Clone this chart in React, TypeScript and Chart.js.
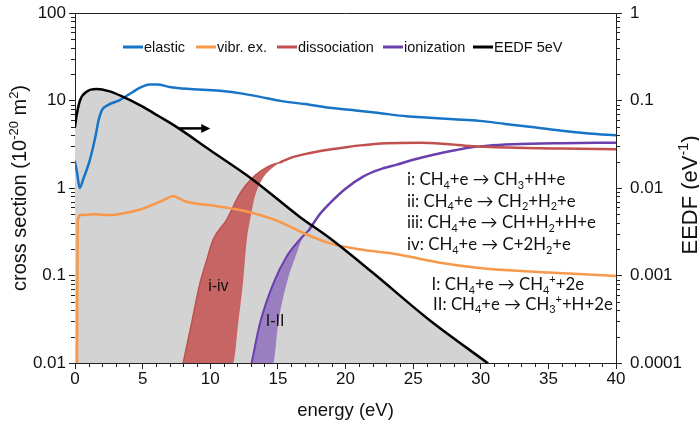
import React, { useEffect, useRef } from 'react';
import { Chart, registerables } from 'chart.js';

Chart.register(...registerables);

// ---------- data ----------
const energyTicks = [0, 5, 10, 15, 20, 25, 30, 35, 40];
const crossTicks = [0.01, 0.1, 1, 10, 100];
const eedfTicks = [0.0001, 0.001, 0.01, 0.1, 1];

const legendLabels = ['elastic', 'vibr. ex.', 'dissociation', 'ionization', 'EEDF 5eV'];

const elastic: [number, number][] = [
  [0, 2.0], [0.15, 1.5], [0.35, 1.0], [0.6, 1.25], [1.1, 2.1], [1.5, 3.8], [1.75, 6.0],
  [2.0, 7.8], [2.4, 8.8], [3.3, 10.1], [4.3, 12.6], [4.9, 14.2], [5.5, 15.2], [6.1, 15.2],
  [7.0, 14.3], [8.3, 13.6], [10.7, 12.9], [12.5, 11.9], [13.7, 11.0], [15.2, 9.9], [17, 9.1],
  [19, 8.2], [21.1, 7.6], [22.6, 7.15], [24.5, 6.6], [26.2, 6.35], [28, 6.1], [29.9, 5.85],
  [31.8, 5.4], [33.6, 5.0], [36, 4.5], [38, 4.2], [40, 4.0],
];

const vibrational: [number, number][] = [
  [0.15, 0.01], [0.2, 0.42], [0.4, 0.49], [1.5, 0.5], [2.5, 0.49], [3.5, 0.51], [5, 0.58],
  [6.5, 0.72], [7.3, 0.81], [7.7, 0.76], [8.2, 0.7], [10.5, 0.62], [12.7, 0.54], [15, 0.42],
  [17, 0.3], [18.85, 0.233], [21, 0.2], [23.8, 0.175], [27, 0.14], [29.9, 0.122], [35, 0.108],
  [40, 0.099],
];

const dissocLeftEdge: [number, number][] = [
  [8.0, 0.01], [8.62, 0.0286], [9.24, 0.0815], [9.74, 0.15], [10.2, 0.255], [11.2, 0.43],
  [12.2, 0.87], [13.0, 1.25], [13.7, 1.55], [14.5, 1.82], [15.2, 1.97],
];
const dissocRightEdge: [number, number][] = [
  [8.0, 0.01], [11.7, 0.01], [12.07, 0.0286], [12.44, 0.089], [12.7, 0.255], [12.94, 0.43],
  [13.3, 0.8], [13.9, 1.3], [14.6, 1.7], [15.2, 1.97],
];
const dissocTail: [number, number][] = [
  [15.2, 1.97], [16.1, 2.25], [17.3, 2.5], [18.6, 2.72], [20, 2.92], [21.1, 3.07], [23, 3.25],
  [25.5, 3.3], [27.5, 3.18], [29.2, 3.02], [32, 2.9], [36, 2.82], [40, 2.77],
];

const ionLeftEdge: [number, number][] = [
  [13.06, 0.01], [13.68, 0.0286], [14.66, 0.081], [15.65, 0.165], [16.6, 0.255], [17.3, 0.33],
];
const ionRightEdge: [number, number][] = [
  [13.06, 0.01], [14.66, 0.01], [15.03, 0.0286], [15.65, 0.081], [16.39, 0.18], [16.76, 0.255],
  [17.3, 0.33],
];
const ionTail: [number, number][] = [
  [17.3, 0.33], [18.0, 0.48], [18.85, 0.67], [20, 0.98], [21.3, 1.35], [22.5, 1.62],
  [23.8, 1.85], [25, 2.1], [26.5, 2.4], [28.2, 2.72], [29.2, 2.9], [30.5, 3.05], [32.4, 3.16],
  [36, 3.25], [40, 3.3],
];

const eedf5eV: [number, number][] = [
  [0, 0.05], [0.1, 0.065], [0.37, 0.1], [0.86, 0.126], [1.6, 0.135], [2.5, 0.128],
  [3.57, 0.11], [5, 0.085], [6.2, 0.066], [7.5, 0.05], [10, 0.027], [13.2, 0.0123],
  [16.6, 0.0047], [18.85, 0.00266], [22, 0.00108], [26.2, 0.00031], [30.5, 0.0001],
];

const reactionsDissoc = [
  'i: CH_4+e → CH_3+H+e',
  'ii: CH_4+e → CH_2+H_2+e',
  'iii: CH_4+e → CH+H_2+H+e',
  'iv: CH_4+e → C+2H_2+e',
];
const reactionsIon = ['I: CH_4+e → CH_4^++2e', 'II: CH_4+e → CH_3^++H+2e'];

// ---------- styles ----------
const C_BLUE = '#1874c6';
const C_ORANGE = '#f8984a';
const C_RED = '#c0504d';
const C_PURPLE = '#6a3fae';
const C_BLACK = '#000000';
const C_GREY = 'rgb(211,211,211)';
const C_RED_BAND = 'rgb(199,101,101)';
const C_PURPLE_BAND = 'rgb(153,126,192)';
const legendColors = [C_BLUE, C_ORANGE, C_RED, C_PURPLE, C_BLACK];

const SANS = '"Liberation Sans", Arial, sans-serif';
const NOTE = 'Lato, "Noto Sans", sans-serif';

const pts = (a: [number, number][]) => a.map(([x, y]) => ({ x, y }));

type Seg = { t: string; k?: 'sub' | 'sup' };
function parseRich(s: string): Seg[] {
  const out: Seg[] = [];
  let buf = '';
  let i = 0;
  const flush = () => {
    if (buf) out.push({ t: buf });
    buf = '';
  };
  while (i < s.length) {
    const c = s[i];
    if ((c === '_' || c === '^') && i + 1 < s.length) {
      flush();
      let t = '';
      if (s[i + 1] === '{') {
        const k = s.indexOf('}', i + 1);
        t = s.slice(i + 2, k);
        i = k + 1;
      } else {
        t = s[i + 1];
        i += 2;
      }
      out.push({ t, k: c === '_' ? 'sub' : 'sup' });
    } else {
      buf += c;
      i++;
    }
  }
  flush();
  return out;
}

function drawRich(
  ctx: CanvasRenderingContext2D,
  text: string,
  x: number,
  y: number,
  size: number,
  family: string,
  align: 'left' | 'center' = 'left',
) {
  const segs = parseRich(text);
  const fs = (s: Seg) => (s.k ? size * 0.65 : size);
  let w = 0;
  for (const s of segs) {
    ctx.font = `${fs(s)}px ${family}`;
    w += ctx.measureText(s.t).width;
  }
  let cx = align === 'center' ? x - w / 2 : x;
  ctx.textAlign = 'left';
  ctx.textBaseline = 'alphabetic';
  for (const s of segs) {
    ctx.font = `${fs(s)}px ${family}`;
    const dy = s.k === 'sub' ? size * 0.22 : s.k === 'sup' ? -size * 0.4 : 0;
    ctx.fillText(s.t, cx, y + dy);
    cx += ctx.measureText(s.t).width;
  }
}

const decorPlugin = {
  id: 'decor',
  afterDraw(chart: any) {
    const ctx: CanvasRenderingContext2D = chart.ctx;
    const area = chart.chartArea;
    const xs = chart.scales.x;
    const yl = chart.scales.y;
    const yr = chart.scales.y1;
    ctx.save();
    // top border
    ctx.strokeStyle = '#222';
    ctx.lineWidth = 1;
    ctx.beginPath();
    ctx.moveTo(area.left, area.top + 0.5);
    ctx.lineTo(area.right, area.top + 0.5);
    ctx.stroke();
    // minor ticks
    ctx.beginPath();
    for (let d = -2; d < 2; d++) {
      for (let m = 2; m <= 9; m++) {
        const py = Math.round(yl.getPixelForValue(m * Math.pow(10, d))) + 0.5;
        ctx.moveTo(area.left - 4, py);
        ctx.lineTo(area.left, py);
      }
    }
    for (let d = -4; d < 0; d++) {
      for (let m = 2; m <= 9; m++) {
        const py = Math.round(yr.getPixelForValue(m * Math.pow(10, d))) + 0.5;
        ctx.moveTo(area.right, py);
        ctx.lineTo(area.right + 4, py);
      }
    }
    for (let e = 0; e <= 40; e++) {
      if (e % 5 === 0) continue;
      const px = Math.round(xs.getPixelForValue(e)) + 0.5;
      ctx.moveTo(px, area.bottom);
      ctx.lineTo(px, area.bottom + 4);
    }
    ctx.stroke();

    // arrow pointing to right axis
    const ay = yl.getPixelForValue(4.8);
    const ax0 = xs.getPixelForValue(7.7);
    const ax1 = xs.getPixelForValue(10.0);
    ctx.strokeStyle = '#000';
    ctx.fillStyle = '#000';
    ctx.lineWidth = 2.5;
    ctx.beginPath();
    ctx.moveTo(ax0, ay);
    ctx.lineTo(ax1 - 6, ay);
    ctx.stroke();
    ctx.beginPath();
    ctx.moveTo(ax1, ay);
    ctx.lineTo(ax1 - 9, ay - 4.5);
    ctx.lineTo(ax1 - 9, ay + 4.5);
    ctx.closePath();
    ctx.fill();

    // legend
    const legendX = [123, 196, 277, 383, 473];
    legendLabels.forEach((lab, i) => {
      ctx.strokeStyle = legendColors[i];
      ctx.lineWidth = 3;
      ctx.beginPath();
      ctx.moveTo(legendX[i], 47);
      ctx.lineTo(legendX[i] + 20, 47);
      ctx.stroke();
      ctx.fillStyle = '#111';
      ctx.font = `14.5px ${SANS}`;
      ctx.textAlign = 'left';
      ctx.textBaseline = 'alphabetic';
      ctx.fillText(lab, legendX[i] + 21, 52);
    });

    // band labels
    ctx.fillStyle = '#111';
    ctx.font = `16px ${SANS}`;
    ctx.textAlign = 'center';
    ctx.textBaseline = 'middle';
    ctx.fillText('i-iv', xs.getPixelForValue(10.6), yl.getPixelForValue(0.0745));
    ctx.fillText('I-II', xs.getPixelForValue(14.79), yl.getPixelForValue(0.0297));

    // reactions
    ctx.fillStyle = '#111';
    const rb = [185, 206.7, 228.3, 250];
    reactionsDissoc.forEach((r, i) => drawRich(ctx, r, 407, rb[i], 16.8, NOTE));
    const ib = [290, 309.5];
    const ix = [431.5, 433];
    reactionsIon.forEach((r, i) => drawRich(ctx, r, ix[i], ib[i], 16.8, NOTE));

    // axis titles
    ctx.fillStyle = '#111';
    drawRich(ctx, 'energy (eV)', (area.left + area.right) / 2, 416, 18.5, SANS, 'center');
    ctx.save();
    ctx.translate(25.5, (area.top + area.bottom) / 2);
    ctx.rotate(-Math.PI / 2);
    drawRich(ctx, 'cross section (10^{-20} m^2)', 0, 0, 20, SANS, 'center');
    ctx.restore();
    ctx.save();
    ctx.translate(697, 195);
    ctx.rotate(-Math.PI / 2);
    drawRich(ctx, 'EEDF (eV^{-1})', 0, 0, 22, SANS, 'center');
    ctx.restore();

    ctx.restore();
  },
};

function lineDs(label: string, data: [number, number][], color: string, width: number, order: number, extra: any = {}) {
  return {
    label,
    data: pts(data),
    borderColor: color,
    backgroundColor: color,
    borderWidth: width,
    pointRadius: 0,
    fill: false,
    cubicInterpolationMode: 'monotone',
    order,
    yAxisID: 'y',
    ...extra,
  };
}

export default function App() {
  const ref = useRef<HTMLCanvasElement>(null);
  useEffect(() => {
    if (!ref.current) return;
    const datasets: any[] = [
      // 0 EEDF fill
      lineDs('EEDF fill', eedf5eV, 'rgba(0,0,0,0)', 0, 20, {
        yAxisID: 'y1',
        fill: 'start',
        backgroundColor: C_GREY,
      }),
      // 1 dissociation band upper edge
      lineDs('diss band', dissocLeftEdge, C_RED, 1.5, 10, {
        fill: { target: 2 },
        backgroundColor: C_RED_BAND,
      }),
      // 2 dissociation band lower edge
      lineDs('diss band low', dissocRightEdge, 'rgba(0,0,0,0)', 0, 11),
      // 3 ionization band upper edge
      lineDs('ion band', ionLeftEdge, C_PURPLE, 2, 10, {
        fill: { target: 4 },
        backgroundColor: C_PURPLE_BAND,
      }),
      // 4 ionization band lower edge
      lineDs('ion band low', ionRightEdge, 'rgba(0,0,0,0)', 0, 11),
      lineDs('vibr. ex.', vibrational, C_ORANGE, 2.5, 4),
      lineDs('dissociation', dissocTail, C_RED, 2.5, 3),
      lineDs('ionization', ionTail, C_PURPLE, 2.5, 3),
      lineDs('elastic', elastic, C_BLUE, 2.5, 2),
      lineDs('EEDF 5eV', eedf5eV, C_BLACK, 2.5, 1, { yAxisID: 'y1' }),
    ];

    const tickFont = { family: SANS, size: 17 };
    const chart = new Chart(ref.current, {
      type: 'line',
      data: { datasets },
      plugins: [decorPlugin],
      options: {
        animation: false,
        responsive: false,
        devicePixelRatio: 1,
        layout: { padding: { top: 13, left: 0, right: 0, bottom: 0 } },
        plugins: { legend: { display: false }, tooltip: { enabled: false } },
        elements: { line: { borderCapStyle: 'round', borderJoinStyle: 'round' } },
        scales: {
          x: {
            type: 'linear',
            min: 0,
            max: 40,
            afterFit: (s: any) => {
              s.height = 65;
              s.paddingLeft = 0;
              s.paddingRight = 0;
            },
            afterBuildTicks: (s: any) => {
              s.ticks = energyTicks.map((v) => ({ value: v }));
            },
            ticks: { font: tickFont, color: '#111', padding: 0, maxRotation: 0, autoSkip: false },
            grid: { display: true, drawOnChartArea: false, drawTicks: true, tickLength: 6, tickColor: '#222' },
            border: { display: true, color: '#222', width: 1 },
          },
          y: {
            type: 'logarithmic',
            position: 'left',
            min: 0.01,
            max: 100,
            afterFit: (s: any) => {
              s.width = 75;
              s.paddingTop = 0;
              s.paddingBottom = 0;
            },
            afterBuildTicks: (s: any) => {
              s.ticks = crossTicks.map((v) => ({ value: v, major: true }));
            },
            ticks: { font: tickFont, color: '#111', padding: 3, autoSkip: false, callback: (v: any) => String(v) },
            grid: { display: true, drawOnChartArea: false, drawTicks: true, tickLength: 6, tickColor: '#222' },
            border: { display: true, color: '#222', width: 1 },
          },
          y1: {
            type: 'logarithmic',
            position: 'right',
            min: 0.0001,
            max: 1,
            afterFit: (s: any) => {
              s.width = 83;
              s.paddingTop = 0;
              s.paddingBottom = 0;
            },
            afterBuildTicks: (s: any) => {
              s.ticks = eedfTicks.map((v) => ({ value: v, major: true }));
            },
            ticks: { font: tickFont, color: '#111', padding: 8, autoSkip: false, callback: (v: any) => String(v) },
            grid: { display: true, drawOnChartArea: false, drawTicks: true, tickLength: 6, tickColor: '#222' },
            border: { display: true, color: '#222', width: 1 },
          },
        },
      } as any,
    });
    return () => chart.destroy();
  }, []);

  return (
    <div style={{ position: 'fixed', left: 0, top: 0, width: 699, height: 428, background: '#fff' }}>
      <canvas ref={ref} width={699} height={428} style={{ width: 699, height: 428, display: 'block' }} />
    </div>
  );
}
